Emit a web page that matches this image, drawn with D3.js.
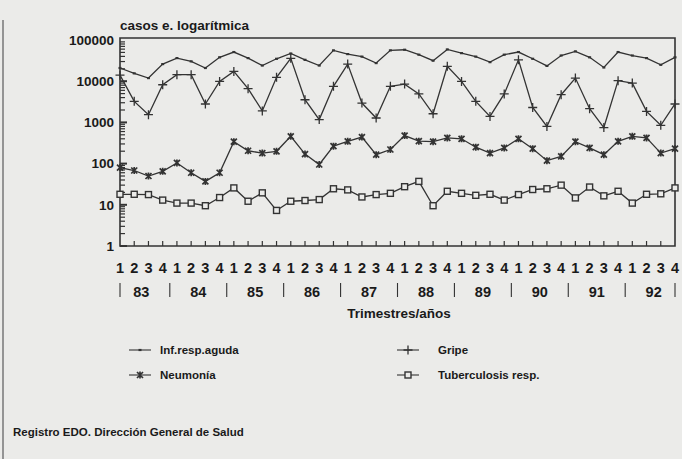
<!DOCTYPE html>
<html>
<head>
<meta charset="utf-8">
<script src="https://cdn.jsdelivr.net/npm/d3@7"></script>
<style>
  body { margin: 0; background: #ebebe9; }
  text { font-family: "Liberation Sans", Arial, sans-serif; font-weight: bold; fill: #1a1a1a; }
</style>
</head>
<body>
<svg id="grafico"></svg>
<script>
// datos (casos por trimestre, 1983-1992)
const anios = ["83", "84", "85", "86", "87", "88", "89", "90", "91", "92"];
const trimestres = ["1", "2", "3", "4"];

const infRespAguda = [20900, 15500, 11900, 26000, 36400, 30300, 20900, 38000, 51000, 36400,
  24000, 35000, 47000, 33000, 24000, 56000, 45500, 39500, 27500, 56000,
  58000, 44000, 31500, 59000, 48000, 39500, 29000, 44000, 51000, 35000,
  23500, 42000, 53000, 38000, 21500, 51000, 42000, 36400, 25000, 38000];
const gripe = [14000, 3240, 1540, 8200, 14400, 14400, 2800, 9900, 17300, 6600,
  1900, 12400, 36000, 3550, 1170, 7500, 26000, 2950, 1280, 7500,
  8500, 4900, 1620, 23000, 9900, 3240, 1400, 4900, 33000, 2300,
  800, 4700, 11900, 2150, 750, 10300, 9000, 1850, 850, 2800];
const neumonia = [80, 68, 50, 65, 104, 60, 37, 60, 340, 205,
  180, 199, 460, 170, 95, 265, 348, 440, 165, 220,
  480, 350, 340, 420, 400, 250, 180, 240, 400, 230,
  118, 150, 340, 240, 165, 348, 460, 420, 180, 230];
const tuberculosis = [18, 18, 17.7, 13, 11, 11, 9.5, 15, 25.7, 12.2,
  19.5, 7.3, 12.2, 12.7, 13.4, 24.5, 23, 15.5, 17.7, 19,
  27.5, 37, 9.5, 21.3, 19, 17, 18, 13, 17.7, 23.5,
  24.5, 30, 14.7, 27, 16.5, 21.3, 11, 18, 18.5, 25.7];
const ticksY = [1, 10, 100, 1000, 10000, 100000];

const series = [
  { nombre: "Inf.resp.aguda", valores: infRespAguda, marca: "punto" },
  { nombre: "Gripe", valores: gripe, marca: "cruz" },
  { nombre: "Neumonía", valores: neumonia, marca: "asterisco" },
  { nombre: "Tuberculosis resp.", valores: tuberculosis, marca: "cuadro" }
];

const WIDTH = 682;
const HEIGHT = 459;
const margins = { top: 40, bottom: 213, left: 120, right: 6 };

const svg = d3.select("#grafico")
  .attr("width", WIDTH)
  .attr("height", HEIGHT);

const n = infRespAguda.length;
const x = d3.scaleLinear()
  .domain([0, n - 1])
  .range([margins.left, WIDTH - margins.right - 1]);
const y = d3.scaleLog()
  .domain([1, 100000])
  .range([HEIGHT - margins.bottom, margins.top]);

const colorLinea = "#333";

// borde del papel a la izquierda
svg.append("line")
  .attr("x1", 3).attr("x2", 3).attr("y1", 20).attr("y2", HEIGHT)
  .attr("stroke", "#777").attr("stroke-width", 1.5);

// marco del grafico
const x0 = x.range()[0], x1 = x.range()[1];
const yTop = y(100000) - 2, yBot = y(1);
svg.append("path")
  .attr("d", `M${x0},${yBot}L${x0},${yTop}L${x1},${yTop}L${x1},${yBot}Z`)
  .attr("fill", "none")
  .attr("stroke", colorLinea)
  .attr("stroke-width", 1.6);

// eje Y logaritmico con ticks menores hacia dentro
const ejeY = d3.axisLeft(y)
  .tickValues(ticksY)
  .tickFormat(d3.format("d"))
  .tickSize(0)
  .tickPadding(6);
const gY = svg.append("g")
  .attr("transform", `translate(${x0},0)`)
  .call(ejeY);
gY.select(".domain").remove();
gY.selectAll("text").attr("font-size", 13.5);

const menores = [];
ticksY.slice(0, -1).forEach(base => {
  for (let k = 1; k <= 9; k++) menores.push(base * k);
});
svg.append("g").selectAll("line")
  .data(menores)
  .join("line")
  .attr("x1", x0)
  .attr("x2", d => ticksY.includes(d) ? x0 + 7 : x0 + 5)
  .attr("y1", d => y(d))
  .attr("y2", d => y(d))
  .attr("stroke", colorLinea)
  .attr("stroke-width", d => ticksY.includes(d) ? 2 : 1.2);

// eje X: trimestres
const indices = d3.range(n);
svg.append("g").selectAll("line")
  .data(indices.slice(1, -1))
  .join("line")
  .attr("x1", d => x(d)).attr("x2", d => x(d))
  .attr("y1", yBot).attr("y2", yBot - 5)
  .attr("stroke", colorLinea)
  .attr("stroke-width", 1.2);

svg.append("g").selectAll("text")
  .data(indices)
  .join("text")
  .attr("x", d => x(d))
  .attr("y", yBot + 27)
  .attr("text-anchor", "middle")
  .attr("font-size", 14.5)
  .text(d => trimestres[d % 4]);

// años y separadores
svg.append("g").selectAll("text")
  .data(anios)
  .join("text")
  .attr("x", (d, i) => x(i * 4 + 1.5))
  .attr("y", yBot + 51)
  .attr("text-anchor", "middle")
  .attr("font-size", 14.5)
  .text(d => d);

const separadores = [0].concat(d3.range(1, anios.length).map(k => k * 4 - 0.5), [n - 1]);
svg.append("g").selectAll("line")
  .data(separadores)
  .join("line")
  .attr("x1", d => x(d)).attr("x2", d => x(d))
  .attr("y1", yBot + 37).attr("y2", yBot + 51)
  .attr("stroke", colorLinea)
  .attr("stroke-width", 1.1);

// titulos
svg.append("text")
  .attr("x", 120).attr("y", 30)
  .attr("font-size", 13.5)
  .text("casos e. logarítmica");

svg.append("text")
  .attr("x", 399).attr("y", 318)
  .attr("text-anchor", "middle")
  .attr("font-size", 13.5)
  .text("Trimestres/años");

svg.append("text")
  .attr("x", 13).attr("y", 436)
  .attr("font-size", 11.5)
  .text("Registro EDO. Dirección General de Salud");

// marcadores
const dibujarMarca = (g, tipo) => {
  if (tipo === "punto") {
    g.append("line").attr("x1", -1.5).attr("x2", 1.5).attr("y1", 0).attr("y2", 0)
      .attr("stroke", colorLinea).attr("stroke-width", 2.2);
  } else if (tipo === "cruz") {
    g.append("path").attr("d", "M-4.5,0L4.5,0M0,-4.5L0,4.5")
      .attr("stroke", colorLinea).attr("stroke-width", 1.3);
  } else if (tipo === "asterisco") {
    g.append("path").attr("d", "M-3,-3L3,3M-3,3L3,-3M0,-3.5L0,3.5")
      .attr("stroke", colorLinea).attr("stroke-width", 1.7);
  } else {
    g.append("rect").attr("x", -3).attr("y", -3).attr("width", 6).attr("height", 6)
      .attr("fill", "#ebebe9").attr("stroke", colorLinea).attr("stroke-width", 1.4);
  }
};

const linea = d3.line()
  .x((d, i) => x(i))
  .y(d => y(d));

series.forEach(s => {
  const g = svg.append("g");
  g.append("path")
    .datum(s.valores)
    .attr("d", linea)
    .attr("fill", "none")
    .attr("stroke", colorLinea)
    .attr("stroke-width", 1.3);
  g.selectAll("g.marca")
    .data(s.valores)
    .join("g")
    .attr("class", "marca")
    .attr("transform", (d, i) => `translate(${x(i)},${y(d)})`)
    .each(function () { dibujarMarca(d3.select(this), s.marca); });
});

// leyenda
const leyenda = [
  { s: series[0], lx: 129, tx: 160, ly: 350 },
  { s: series[2], lx: 129, tx: 160, ly: 375 },
  { s: series[1], lx: 397, tx: 438, ly: 350 },
  { s: series[3], lx: 397, tx: 438, ly: 375 }
];
leyenda.forEach(item => {
  const g = svg.append("g");
  g.append("line")
    .attr("x1", item.lx).attr("x2", item.lx + 22)
    .attr("y1", item.ly).attr("y2", item.ly)
    .attr("stroke", colorLinea).attr("stroke-width", 1.1);
  dibujarMarca(g.append("g").attr("transform", `translate(${item.lx + 11},${item.ly})`), item.s.marca);
  g.append("text")
    .attr("x", item.tx)
    .attr("y", item.ly + 4)
    .attr("font-size", 11.5)
    .text(item.s.nombre);
});
</script>
</body>
</html>
